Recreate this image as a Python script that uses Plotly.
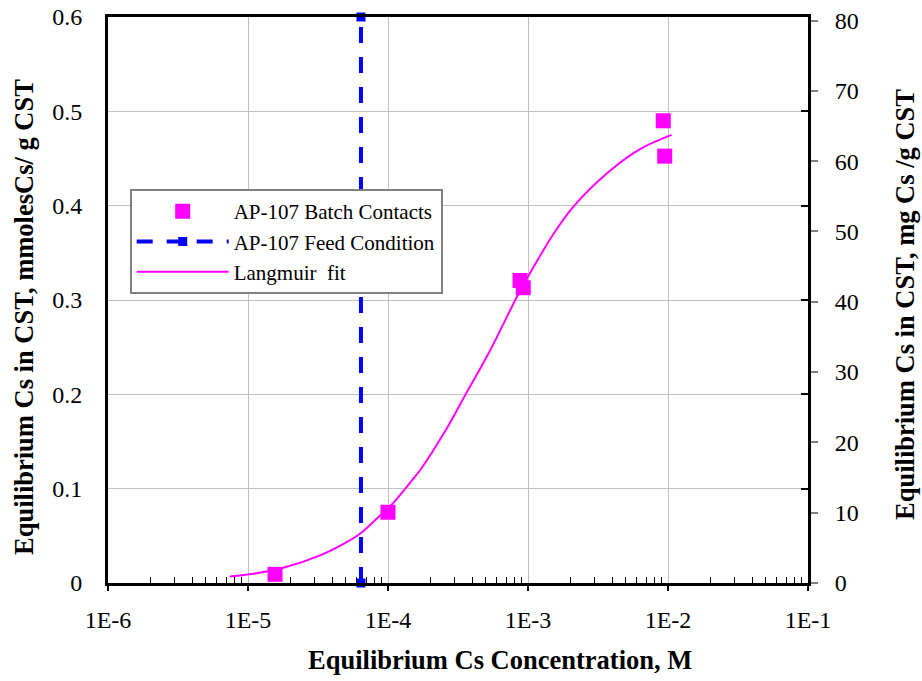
import plotly.graph_objects as go

# ---- data ----
batch_conc = [1.56e-5, 1.0e-4, 8.77e-4, 9.25e-4, 9.25e-3, 9.47e-3]
batch_q = [0.0092, 0.075, 0.3207, 0.313, 0.490, 0.4525]

feed_conc = [6.41e-5, 6.41e-5]
feed_q = [0.0, 0.6]

fit_conc = [7.44e-6, 1.09e-5, 1.79e-5, 3.27e-5, 5.07e-5, 6.31e-5, 8.30e-5, 1.09e-4,
            1.48e-4, 1.69e-4, 2.62e-4, 3.55e-4, 5.36e-4, 8.30e-4, 9.80e-4, 1.52e-3,
            2.11e-3, 3.85e-3, 6.31e-3, 1.06e-2]
fit_q = [0.0069, 0.0098, 0.0161, 0.0292, 0.0433, 0.0522, 0.0681, 0.085,
         0.1087, 0.1193, 0.1635, 0.1988, 0.2465, 0.303, 0.3225, 0.370,
         0.399, 0.437, 0.460, 0.475]

x_tickvals = [1e-6, 1e-5, 1e-4, 1e-3, 1e-2, 1e-1]
x_ticktext = ["1E-6", "1E-5", "1E-4", "1E-3", "1E-2", "1E-1"]
x_minor = [m * 10.0 ** e for e in range(-6, -1) for m in range(2, 10)]
y_left_ticks = [0, 0.1, 0.2, 0.3, 0.4, 0.5, 0.6]
y_left_text = ["0", "0.1", "0.2", "0.3", "0.4", "0.5", "0.6"]
y_right_ticks = [0, 10, 20, 30, 40, 50, 60, 70, 80]

FONT = "Liberation Serif"

fig = go.Figure()

fig.add_trace(go.Scatter(
    x=batch_conc, y=batch_q, mode="markers", name="AP-107 Batch Contacts",
    marker=dict(symbol="square", size=15, color="#FF00FF"),
))
fig.add_trace(go.Scatter(
    x=feed_conc, y=feed_q, mode="lines+markers", name="AP-107 Feed Condition",
    line=dict(color="#0000FF", width=4, dash="16px,14px"),
    marker=dict(symbol="square", size=9, color="#0000FF"),
    cliponaxis=False,
))
fig.add_trace(go.Scatter(
    x=fit_conc, y=fit_q, mode="lines", name="Langmuir  fit",
    line=dict(color="#FF00FF", width=2, shape="spline", smoothing=0.9),
))
# helper (invisible) traces so that the right-hand axes are drawn
fig.add_trace(go.Scatter(
    x=[x_tickvals[0], x_tickvals[-1]], y=[y_right_ticks[0], y_right_ticks[-1]],
    yaxis="y2", mode="markers", marker=dict(opacity=0), showlegend=False, hoverinfo="skip",
))
fig.add_trace(go.Scatter(
    x=[x_tickvals[0], x_tickvals[-1]], y=[y_left_ticks[0], y_left_ticks[-1]],
    yaxis="y3", mode="markers", marker=dict(opacity=0), showlegend=False, hoverinfo="skip",
))

fig.update_layout(
    template="none",
    width=922, height=681,
    margin=dict(l=108, r=114, t=17, b=98, autoexpand=False),
    paper_bgcolor="white", plot_bgcolor="white",
    font=dict(family=FONT, size=24, color="black"),
    showlegend=True,
    legend=dict(
        x=0.031, y=0.696, xanchor="left", yanchor="top",
        bgcolor="white", bordercolor="#808080", borderwidth=2,
        font=dict(family=FONT, size=21, color="black"),
        itemwidth=92, tracegroupgap=0,
    ),
    xaxis=dict(
        type="log", range=[-6, -1], automargin=False,
        tickmode="array", tickvals=x_tickvals, ticktext=x_ticktext,
        ticks="outside", ticklen=5, tickwidth=1.5, tickcolor="black",
        showgrid=True, gridcolor="#C0C0C0", gridwidth=1,
        showline=True, linecolor="black", linewidth=3, mirror=True,
        zeroline=False,
        tickfont=dict(family=FONT, size=24),
        ticklabelstandoff=8,
        minor=dict(tickmode="array", tickvals=x_minor, ticks="inside", ticklen=6,
                   tickwidth=1.2, tickcolor="black", showgrid=False),
    ),
    yaxis=dict(
        range=[0, 0.6], automargin=False,
        tickmode="array", tickvals=y_left_ticks, ticktext=y_left_text,
        ticks="", showgrid=True, gridcolor="#C0C0C0", gridwidth=1,
        showline=True, linecolor="black", linewidth=3,
        zeroline=False, tickfont=dict(family=FONT, size=24),
        ticklabelstandoff=18,
    ),
    yaxis2=dict(
        range=[0, 80.5], overlaying="y", side="right", automargin=False,
        tickmode="array", tickvals=y_right_ticks,
        ticks="outside", ticklen=7, tickwidth=1.5, tickcolor="#808080",
        showgrid=False, showline=True, linecolor="black", linewidth=3,
        zeroline=False, tickfont=dict(family=FONT, size=24),
        ticklabelstandoff=12,
    ),
    yaxis3=dict(
        range=[0, 0.6], overlaying="y", side="right", automargin=False,
        tickmode="array", tickvals=y_left_ticks,
        ticks="inside", ticklen=7, tickwidth=1.5, tickcolor="black",
        showticklabels=False, showgrid=False, showline=False, zeroline=False,
    ),
    annotations=[
        dict(text="<b>Equilibrium Cs Concentration, M</b>", xref="paper", yref="paper",
             x=(500 - 108) / 700, y=(583 - 660) / 566, xanchor="center", yanchor="middle",
             showarrow=False, font=dict(family=FONT, size=26.5)),
        dict(text="<b>Equilibrium Cs in CST, mmolesCs/ g CST</b>", xref="paper", yref="paper",
             x=(24 - 108) / 700, y=(583 - 317) / 566, xanchor="center", yanchor="middle",
             textangle=-90, showarrow=False, font=dict(family=FONT, size=26.5)),
        dict(text="<b>Equilibrium Cs in CST, mg Cs /g CST</b>", xref="paper", yref="paper",
             x=(905 - 108) / 700, y=(583 - 305) / 566, xanchor="center", yanchor="middle",
             textangle=-90, showarrow=False, font=dict(family=FONT, size=26.5)),
    ],
)

fig.write_html("out.html")
